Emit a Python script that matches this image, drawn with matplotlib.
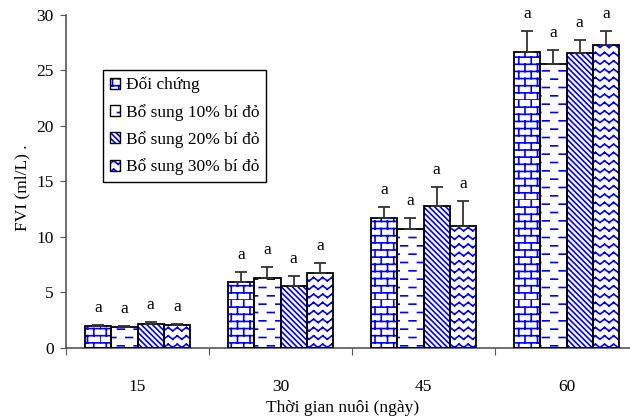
import numpy as np
import matplotlib
matplotlib.use("Agg")
import matplotlib.pyplot as plt
import matplotlib.hatch as mhatch
from matplotlib.path import Path
from matplotlib.patches import Rectangle

# data
days = ["15", "30", "45", "60"]
series = ["Đối chứng", "Bổ sung 10% bí đỏ", "Bổ sung 20% bí đỏ", "Bổ sung 30% bí đỏ"]
doi_chung = [1.98, 5.97, 11.74, 26.70]
bo_sung_10 = [1.86, 6.31, 10.75, 25.59]
bo_sung_20 = [2.13, 5.56, 12.76, 26.55]
bo_sung_30 = [2.04, 6.73, 10.96, 27.27]
err_doi_chung = [0.06, 0.85, 0.93, 1.83]
err_10 = [0.14, 0.96, 0.99, 1.26]
err_20 = [0.24, 0.95, 1.72, 1.23]
err_30 = [0.10, 0.95, 2.25, 1.26]
letters = ["a", "a", "a", "a"]


# --- custom hatch patterns (brick, dashes, zigzag) ---
def _segments(cells):
    return np.array(cells, dtype=float).reshape(-1, 2)


class BrickHatch(mhatch.HatchPatternBase):
    def __init__(self, hatch, density):
        k = hatch.count("B")
        self.ncol = 8 * k
        self.nrow = 7 * k
        self.num_vertices = self.ncol * self.nrow * 8 if k else 0

    def set_vertices_and_codes(self, vertices, codes):
        pts = []
        w, h = 1.0 / self.ncol, 1.0 / self.nrow
        for i in range(self.ncol):
            for j in range(self.nrow):
                x0, y0 = i * w, j * h
                pts += [(x0, y0), (x0 + w, y0),
                        (x0, y0 + h / 2), (x0 + w, y0 + h / 2),
                        (x0, y0), (x0, y0 + h / 2),
                        (x0 + w / 2, y0 + h / 2), (x0 + w / 2, y0 + h)]
        vertices[:] = _segments(pts)
        codes[0::2] = Path.MOVETO
        codes[1::2] = Path.LINETO


class DashHatch(mhatch.HatchPatternBase):
    def __init__(self, hatch, density):
        k = hatch.count("D")
        self.n = 6 * k
        self.num_vertices = self.n * self.n * 4 if k else 0

    def set_vertices_and_codes(self, vertices, codes):
        pts = []
        s = 1.0 / self.n
        for i in range(self.n):
            for j in range(self.n):
                x0, y0 = i * s, j * s
                pts += [(x0 + 0.05 * s, y0 + 0.25 * s), (x0 + 0.45 * s, y0 + 0.25 * s),
                        (x0 + 0.55 * s, y0 + 0.75 * s), (x0 + 0.95 * s, y0 + 0.75 * s)]
        vertices[:] = _segments(pts)
        codes[0::2] = Path.MOVETO
        codes[1::2] = Path.LINETO


class ZigzagHatch(mhatch.HatchPatternBase):
    def __init__(self, hatch, density):
        k = hatch.count("Z")
        self.ncol = 11 * k
        self.nrow = 12 * k
        self.num_vertices = self.ncol * self.nrow * 4 if k else 0

    def set_vertices_and_codes(self, vertices, codes):
        pts = []
        w, h = 1.0 / self.ncol, 1.0 / self.nrow
        for i in range(self.ncol):
            for j in range(self.nrow):
                x0, y0 = i * w, j * h
                pts += [(x0, y0 + 0.3 * h), (x0 + w / 2, y0 + 0.7 * h),
                        (x0 + w / 2, y0 + 0.7 * h), (x0 + w, y0 + 0.3 * h)]
        vertices[:] = _segments(pts)
        codes[0::2] = Path.MOVETO
        codes[1::2] = Path.LINETO


mhatch._hatch_types.extend([BrickHatch, DashHatch, ZigzagHatch])
mhatch._validate_hatch_pattern = lambda h: None

plt.rcParams["font.family"] = ["Liberation Serif", "DejaVu Serif"]
plt.rcParams["hatch.linewidth"] = 1.2

values = [doi_chung, bo_sung_10, bo_sung_20, bo_sung_30]
errors = [err_doi_chung, err_10, err_20, err_30]
hatches = ["B", "D", "\\" * 6, "Z"]
blue = "#0000ff"
fs = 12.5

fig = plt.figure(figsize=(6.3, 4.19), dpi=100)
ax = fig.add_axes([0.1048, 0.1695, 0.908, 0.7947])

x = np.arange(len(days)) + 0.5
width = 0.184
handles = []
for k in range(4):
    pos = x + (k - 1.5) * width
    ax.bar(pos, values[k], width, color="white", edgecolor=blue, linewidth=0,
           hatch=hatches[k], zorder=2)
    ax.bar(pos, values[k], width, fill=False, edgecolor="black", linewidth=1.3, zorder=3)
    ax.errorbar(pos, values[k], yerr=[np.zeros(4), errors[k]], fmt="none",
                ecolor="#333333", elinewidth=1.3, capsize=4, capthick=1.3, zorder=4)
    for p, v, e, t in zip(pos, values[k], errors[k], letters):
        ax.annotate(t, (p, v + e), xytext=(0, 6.5), textcoords="offset points",
                    ha="center", va="bottom", fontsize=fs)
    h1 = Rectangle((0, 0), 1, 1, facecolor="white", edgecolor=blue, linewidth=0,
                   hatch=hatches[k])
    h2 = Rectangle((0, 0), 1, 1, fill=False, edgecolor="black", linewidth=1.0)
    handles.append((h1, h2))

ax.set_xlim(0, 4)
ax.set_ylim(0, 30)
ax.set_yticks(np.arange(0, 31, 5))
ax.set_xticks(np.arange(0, 5))
ax.set_xticklabels([])
ax.set_xticks(x, minor=True)
ax.set_xticklabels(days, minor=True)
ax.tick_params(axis="x", which="major", direction="out", length=5, color="#555555")
ax.tick_params(axis="x", which="minor", length=0, pad=22, labelsize=fs)
ax.tick_params(axis="y", direction="out", length=4, pad=5, color="#555555", labelsize=fs)

for side in ["top", "right"]:
    ax.spines[side].set_visible(False)
for side in ["left", "bottom"]:
    ax.spines[side].set_color("#555555")
    ax.spines[side].set_linewidth(1.2)

ax.set_xlabel("Thời gian nuôi (ngày)", fontsize=fs, labelpad=4.5)
ax.xaxis.set_label_coords(0.484, -0.155)
ax.set_ylabel("FVI (ml/L) .", fontsize=fs)
ax.yaxis.set_label_coords(-0.062, 0.48)

leg = ax.legend(handles, series,
                loc="upper left", bbox_to_anchor=(0.0647, 0.835), borderaxespad=0,
                fontsize=fs, fancybox=False, edgecolor="black", framealpha=1,
                handlelength=0.6, handleheight=0.6, handletextpad=0.3,
                labelspacing=0.6, borderpad=0.4)
leg.get_frame().set_linewidth(1.0)

fig.savefig("out.png", dpi=100)
